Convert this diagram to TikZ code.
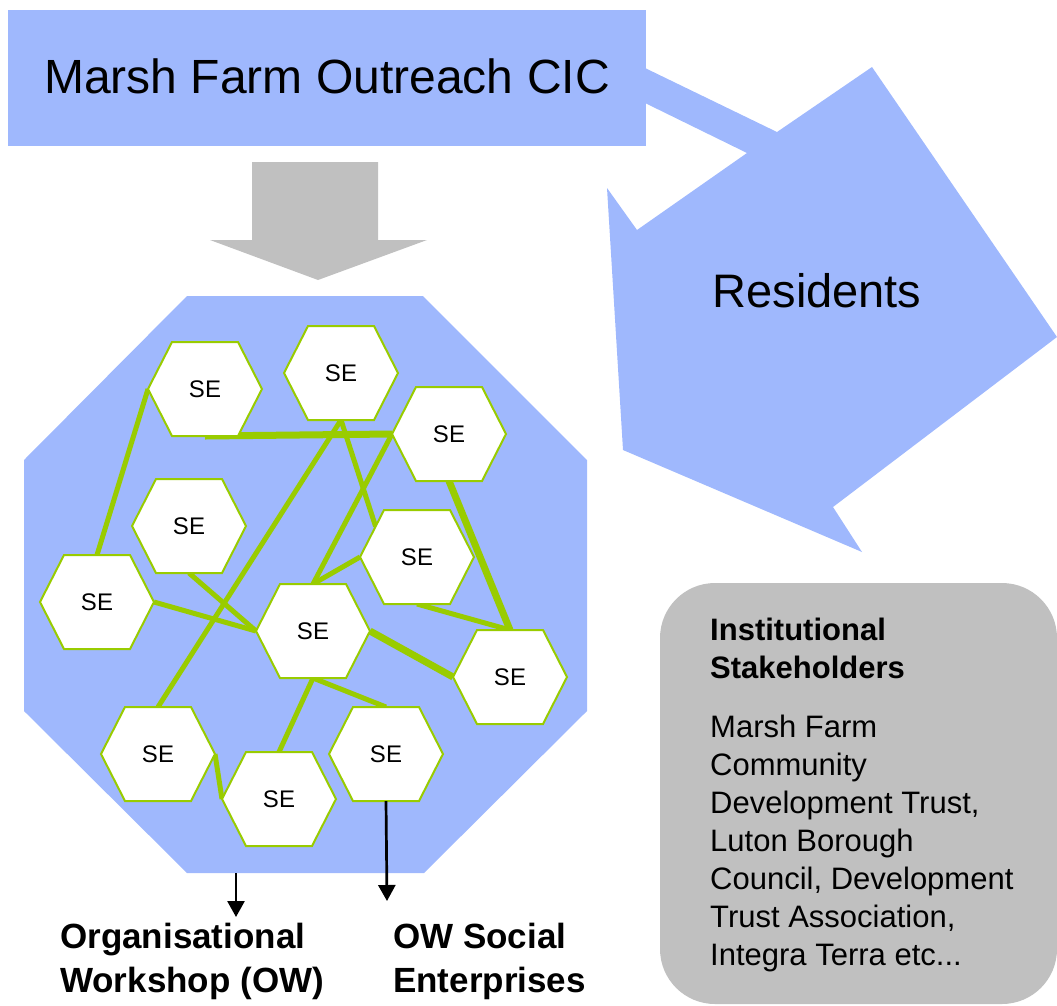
\documentclass[tikz,border=0pt]{standalone}
\usepackage{fontspec}
\setmainfont{Liberation Sans}
\usetikzlibrary{calc,arrows.meta}

\definecolor{panelblue}{RGB}{159,184,253}
\definecolor{boxgray}{RGB}{192,192,192}
\definecolor{linkgreen}{RGB}{153,204,0}

% corner and mid-edge coordinates of one social-enterprise hexagon
\newcommand\hexpoints[3]{%
  \coordinate (#1)    at (#2,#3);
  \coordinate (#1-w)  at (#2-57,#3);
  \coordinate (#1-e)  at (#2+57,#3);
  \coordinate (#1-nw) at (#2-33,#3-47);
  \coordinate (#1-ne) at (#2+33,#3-47);
  \coordinate (#1-sw) at (#2-33,#3+47);
  \coordinate (#1-se) at (#2+33,#3+47);
  \coordinate (#1-n)  at (#2,#3-47);
  \coordinate (#1-s)  at (#2,#3+47);
}
% draw the hexagon and its label
\newcommand\hexcell[1]{%
  \draw[hexcell] (#1-nw) -- (#1-ne) -- (#1-e) -- (#1-se) -- (#1-sw) -- (#1-w) -- cycle;
  \node[selabel] (#1-label) at (#1) {SE};
}

\begin{document}
\begin{tikzpicture}[x=1pt,y=-1pt,
  hexcell/.style={fill=white, draw=linkgreen, line width=2pt},
  selabel/.style={font=\fontsize{24}{28}\selectfont, inner sep=0pt},
  link/.style={draw=linkgreen, line width=5pt},
  heavylink/.style={link, line width=7pt},
  outarrow/.style={draw=black, line width=2.7pt, -{Triangle[width=17pt,length=16pt]}},
  title/.style={font=\fontsize{48}{56}\selectfont, inner sep=0pt},
  bigtext/.style={font=\fontsize{47}{56}\selectfont, inner sep=0pt},
  boxhead/.style={font=\bfseries\fontsize{31}{38}\selectfont, inner sep=0pt, anchor=base west},
  boxline/.style={font=\fontsize{31}{38}\selectfont, inner sep=0pt, anchor=base west},
  caption/.style={font=\bfseries\fontsize{35}{44}\selectfont, inner sep=0pt, anchor=base west}]

\useasboundingbox (0,0) rectangle (1057,1005);

% Residents: banner leaving the header box
\fill[panelblue] (645,68) -- (777,132) -- (872,67) -- (1057,337) -- (833,507)
  -- (862,552) -- (623,450) -- (607,188) -- (637,230) -- (747,153)
  -- (645,103) -- cycle;
\node[bigtext, anchor=base] (residents) at (817,307) {Residents};

% header box
\fill[panelblue] (8,10) rectangle (646,146);
\node[title, anchor=base] (cic) at (327,93) {Marsh Farm Outreach CIC};

% grey block arrow into the workshop
\fill[boxgray] (252,162) -- (378,162) -- (378,240) -- (427,240) -- (318,280)
  -- (210,240) -- (252,240) -- cycle;

% workshop octagon
\fill[panelblue] (187,296) -- (423,296) -- (587,460) -- (587,711) -- (424,873)
  -- (187,873) -- (24,711) -- (24,460) -- cycle;
\coordinate (ow-out) at (236,873);
\coordinate (ow-tip) at (236,917);

% social enterprises
\hexpoints{h1}{205}{389}
\hexpoints{h2}{341}{373}
\hexpoints{h3}{449}{434}
\hexpoints{h4}{189}{526}
\hexpoints{h5}{97}{602}
\hexpoints{h6}{417}{557}
\hexpoints{h7}{313}{631}
\hexpoints{h8}{510}{677}
\hexpoints{h9}{158}{754}
\hexpoints{h10}{279}{799}
\hexpoints{h11}{386}{754}

% links between enterprises
\draw[link] (h1-w) -- (h5-n);
\draw[heavylink] (h1-s) -- (h3-w);
\draw[link] (h2-s) -- (h9-n);
\draw[link] (h2-s) -- ($(h6-nw)!0.35!(h6-w)$);
\draw[link] (h3-w) -- (h7-n);
\draw[heavylink] (h3-s) -- (h8-n);
\draw[link] (h6-s) -- (h8-n);
\draw[link] (h6-w) -- (h7-n);
\draw[link] (h4-s) -- (h7-w);
\draw[link] (h5-e) -- (h7-w);
\draw[heavylink] (h7-e) -- (h8-w);
\draw[link] (h7-s) -- (h10-n);
\draw[link] (h7-s) -- (h11-n);
\draw[link] (h9-e) -- (h10-w);

\foreach \h in {h1,h2,h3,h4,h5,h6,h7,h8,h9,h10,h11} {\hexcell{\h}}

% outputs
\coordinate (se-tip) at (387,901);
\draw[outarrow] (ow-out) -- (ow-tip);
\draw[outarrow] (h11-s) -- (se-tip);

\node[caption] (ow1) at (60,948) {Organisational};
\node[caption] (ow2) at (60,992) {Workshop (OW)};
\node[caption] (se1) at (393,948) {OW Social};
\node[caption] (se2) at (393,992) {Enterprises};

% stakeholders panel
\fill[boxgray, rounded corners=55pt] (660,583) rectangle (1057,1004);
\node[boxhead] (st1) at (710,640) {Institutional};
\node[boxhead] (st2) at (710,678) {Stakeholders};
\node[boxline] (st3) at (710,737) {Marsh Farm};
\node[boxline] (st4) at (710,775) {Community};
\node[boxline] (st5) at (710,813) {Development Trust,};
\node[boxline] (st6) at (710,851) {Luton Borough};
\node[boxline] (st7) at (710,889) {Council, Development};
\node[boxline] (st8) at (710,927) {Trust Association,};
\node[boxline] (st9) at (710,965) {Integra Terra etc...};

\end{tikzpicture}
\end{document}
